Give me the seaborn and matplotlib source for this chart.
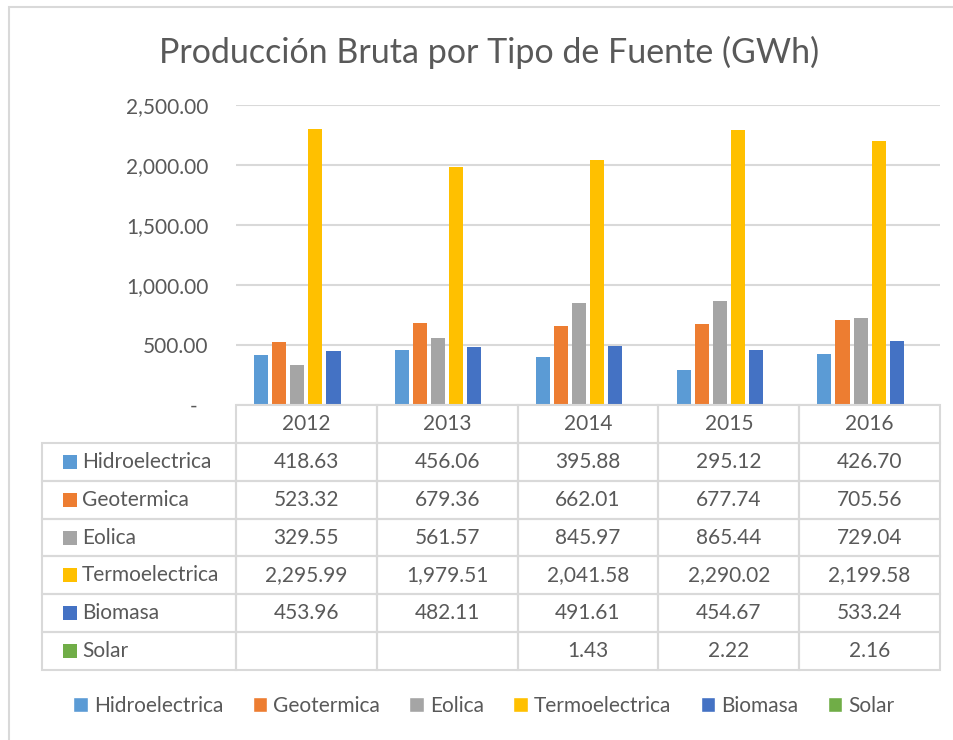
import numpy as np
import pandas as pd
import matplotlib.pyplot as plt
import seaborn as sns
from matplotlib.table import Table
from matplotlib.patches import Rectangle, Patch
from matplotlib.ticker import FuncFormatter

years = ['2012', '2013', '2014', '2015', '2016']
fuentes = ['Hidroelectrica', 'Geotermica', 'Eolica', 'Termoelectrica', 'Biomasa', 'Solar']
hidro = [418.63, 456.06, 395.88, 295.12, 426.70]
geo = [523.32, 679.36, 662.01, 677.74, 705.56]
eolica = [329.55, 561.57, 845.97, 865.44, 729.04]
termo = [2295.99, 1979.51, 2041.58, 2290.02, 2199.58]
biomasa = [453.96, 482.11, 491.61, 454.67, 533.24]
solar = [np.nan, np.nan, 1.43, 2.22, 2.16]
y_ticks = [0, 500, 1000, 1500, 2000, 2500]

colors = ['#5B9BD5', '#ED7D31', '#A5A5A5', '#FFC000', '#4472C4', '#70AD47']
text_col = '#595959'
grid_col = '#D9D9D9'
fs = 15

df = pd.DataFrame({'year': years, 'Hidroelectrica': hidro, 'Geotermica': geo,
                   'Eolica': eolica, 'Termoelectrica': termo,
                   'Biomasa': biomasa, 'Solar': solar})
long_df = df.melt(id_vars='year', var_name='fuente', value_name='gwh')

sns.set_style('white')
plt.rcParams['font.family'] = ['Lato', 'DejaVu Sans']

W, H = 954, 740
fig = plt.figure(figsize=(W / 100, H / 100), dpi=100)

# outer chart border (only top and left edges visible in the crop)
fig.patches.append(Rectangle((9 / W, -0.1), 1.2, 1 - 7 / H + 0.1,
                             transform=fig.transFigure, fill=False,
                             edgecolor=grid_col, linewidth=1.5))

# bar plot area
ax = fig.add_axes([236 / W, 1 - 405 / H, (940 - 236) / W, 300 / H])
sns.barplot(data=long_df, x='year', y='gwh', hue='fuente', hue_order=fuentes,
            palette=colors, saturation=1, width=0.77, gap=0.22, errorbar=None,
            linewidth=0, legend=False, ax=ax)
ax.set_xlim(-0.5, len(years) - 0.5)
ax.set_ylim(0, 2500)
ax.set_yticks(y_ticks)
ax.yaxis.set_major_formatter(FuncFormatter(lambda v, p: '-  ' if v == 0 else f'{v:,.2f}'))
ax.yaxis.grid(True, color=grid_col, linewidth=1.5)
ax.set_axisbelow(True)
ax.tick_params(axis='x', length=0, labelbottom=False)
ax.tick_params(axis='y', length=0, pad=20, labelsize=fs, labelcolor=text_col)
ax.set_xlabel('')
ax.set_ylabel('')
for s in ax.spines.values():
    s.set_visible(False)

fig.text(489 / W, 1 - 52 / H, 'Producción Bruta por Tipo de Fuente (GWh)',
         ha='center', va='center', fontsize=24.5, color=text_col)

# data table under the plot
tab = fig.add_axes([42 / W, 1 - 670 / H, (940 - 42) / W, 265 / H])
tab.set_xlim(0, 898)
tab.set_ylim(265, 0)
tab.axis('off')

label_w = 194 / 898
col_w = (1 - label_w) / len(years)
row_h = 1 / (len(fuentes) + 1)
tbl = Table(tab, bbox=[0, 0, 1, 1])
tbl.auto_set_font_size(False)

cell = tbl.add_cell(0, 0, label_w, row_h, text='', facecolor='none')
cell.visible_edges = 'open'
for j, yr in enumerate(years):
    tbl.add_cell(0, j + 1, col_w, row_h, text=yr, loc='center',
                 edgecolor=grid_col, facecolor='none')

for i, (name, vals) in enumerate(zip(fuentes, [hidro, geo, eolica, termo, biomasa, solar])):
    c = tbl.add_cell(i + 1, 0, label_w, row_h, text=name, loc='left',
                     edgecolor=grid_col, facecolor='none')
    c.PAD = 40 / 194
    for j, v in enumerate(vals):
        txt = '' if np.isnan(v) else f'{v:,.2f}'
        tbl.add_cell(i + 1, j + 1, col_w, row_h, text=txt, loc='center',
                     edgecolor=grid_col, facecolor='none')

tbl.set_fontsize(fs)
for c in tbl.get_celld().values():
    c.set_linewidth(1.5)
    c.get_text().set_color(text_col)
tab.add_table(tbl)

# colour keys in front of the row labels
row_px = 265 / (len(fuentes) + 1)
for i, col in enumerate(colors):
    yc = row_px * (i + 1.5)
    tab.add_patch(Rectangle((21, yc - 7), 14, 14, facecolor=col, edgecolor='none'))

handles = [Patch(facecolor=c, label=n) for c, n in zip(colors, fuentes)]
fig.legend(handles=handles, loc='center', bbox_to_anchor=(484 / W, 1 - 706 / H),
           ncol=6, frameon=False, fontsize=fs, handlelength=0.7, handleheight=0.7,
           handletextpad=0.3, columnspacing=1.4, labelcolor=text_col)

fig.savefig('out.png', dpi=100)
